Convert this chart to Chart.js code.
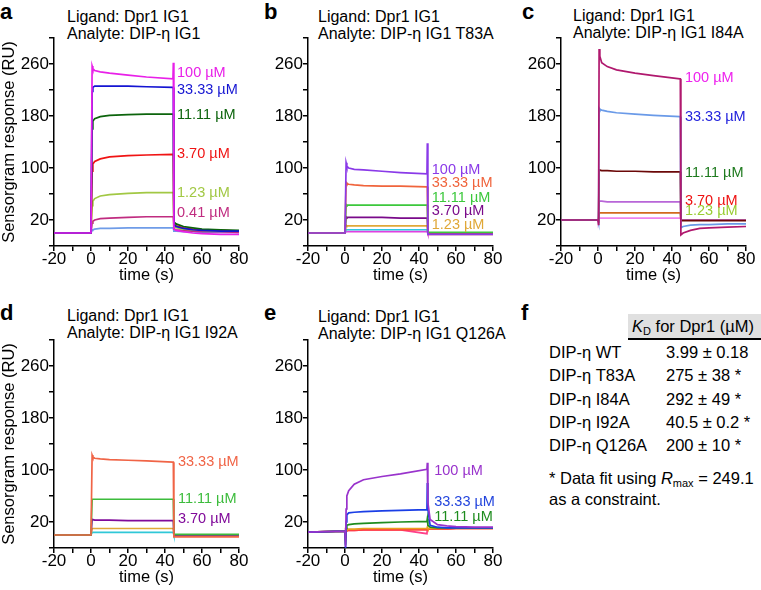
<!DOCTYPE html>
<html>
<head>
<meta charset="utf-8">
<script src="https://cdn.jsdelivr.net/npm/chart.js@4.4.1/dist/chart.umd.min.js"></script>
<style>
  body{margin:0;width:761px;height:590px;overflow:hidden;background:#fff;position:relative;
       font-family:"Liberation Sans",Arial,sans-serif;color:#000}
  canvas{position:absolute}
  .tt{position:absolute;font-size:16px;line-height:16.5px;white-space:nowrap}
  .lt{position:absolute;font-weight:bold;font-size:22px;line-height:22px}
  .row{position:absolute;font-size:16.5px;line-height:23.3px;white-space:nowrap}
</style>
</head>
<body>

<div class="lt" style="left:0;top:1px">a</div>
<div class="lt" style="left:264px;top:1px">b</div>
<div class="lt" style="left:522px;top:1px">c</div>
<div class="lt" style="left:0;top:302px">d</div>
<div class="lt" style="left:264px;top:302px">e</div>
<div class="lt" style="left:521px;top:302px">f</div>

<div class="tt" style="left:67px;top:9px">Ligand: Dpr1 IG1<br>Analyte: DIP-η IG1</div>
<div class="tt" style="left:318px;top:9px">Ligand: Dpr1 IG1<br>Analyte: DIP-η IG1 T83A</div>
<div class="tt" style="left:573px;top:8px">Ligand: Dpr1 IG1<br>Analyte: DIP-η IG1 I84A</div>
<div class="tt" style="left:67px;top:308px">Ligand: Dpr1 IG1<br>Analyte: DIP-η IG1 I92A</div>
<div class="tt" style="left:318px;top:309px">Ligand: Dpr1 IG1<br>Analyte: DIP-η IG1 Q126A</div>

<div id="table"></div>

<script>
// time points (s), shared by every sensorgram
var times = [-20, 0, 0.3, 0.6, 1, 2, 5, 10, 20, 30, 44.3, 44.5, 44.8, 46, 50, 55, 60, 70, 80];

// a: DIP-η IG1
var a100  = [0, 0, 0, 257, 253, 250, 248, 246, 243, 240, 237, 262, 6, 4, 2, 0, -1, -2, -2];
var a33   = [0, 0, 0, 218, 224, 226, 226, 226, 226, 225, 224, 224, 13, 10, 7, 5, 4, 3, 3];
var a11   = [0, 0, 0, 160, 172, 176, 179, 181, 182, 183, 183, 183, 17, 14, 10, 8, 6, 5, 4];
var a3_7  = [0, 0, 0, 95, 106, 110, 114, 117, 119, 120, 121, 121, 14, 11, 8, 6, 5, 4, 3];
var a1_23 = [0, 0, 0, 42, 49, 53, 57, 59, 61, 62, 62, 62, 10, 8, 6, 5, 4, 3, 3];
var a0_41 = [0, 0, 0, 15, 18, 20, 22, 23, 24, 25, 25, 25, 6, 5, 4, 3, 2, 2, 1];
var a0_14 = [0, 0, 0, 4, 5, 6, 7, 7, 8, 8, 8, 8, 3, 3, 2, 2, 1, 1, 1];

// b: T83A
var b100  = [0, 0, 0, 108, 103, 100, 98, 97, 95, 93, 91, 138, -2, -2, -2, -2, -2, -2, -2];
var b33   = [0, 0, 0, 78, 76, 75, 74, 73, 72, 72, 71, 71, -2, -2, -2, -2, -2, -2, -2];
var b11   = [0, 0, 0, 44, 43, 43, 43, 43, 43, 43, 43, 43, 1, 1, 1, 1, 1, 1, 1];
var b3_7  = [0, 0, 0, 25, 24, 24, 24, 24, 24, 23, 23, 23, -1, -1, -1, -1, -1, -1, -1];
var b1_23 = [0, 0, 0, 12, 11, 11, 11, 11, 11, 11, 11, 11, -1, -1, -1, -1, -1, -1, -1];
var b0_41 = [0, 0, 0, 5, 5, 5, 5, 5, 5, 5, 5, 5, -1, -1, -1, -1, -1, -1, -1];
var b0_14 = [0, 0, 0, 2, 2, 2, 2, 2, 2, 2, 2, 2, -1, -1, -1, -1, -1, -1, -1];

// c: I84A
var c100  = [20, 20, 12, 283, 272, 262, 256, 251, 246, 242, 237, 237, -3, 0, 4, 7, 8, 9, 10];
var c33   = [20, 20, 16, 192, 190, 189, 187, 185, 183, 181, 179, 179, 8, 10, 12, 13, 13, 14, 14];
var c11   = [20, 20, 18, 97, 97, 96, 96, 95, 95, 94, 94, 94, 19, 19, 19, 19, 19, 19, 19];
var c3_7  = [20, 20, 19, 49, 49, 49, 48, 48, 48, 48, 48, 48, 20, 20, 20, 20, 20, 20, 20];
var c1_23 = [20, 20, 19, 31, 31, 31, 31, 31, 31, 31, 31, 31, 20, 20, 20, 20, 20, 20, 20];
var c0_41 = [20, 20, 19, 23, 23, 23, 23, 23, 23, 23, 23, 23, 20, 20, 20, 20, 20, 20, 20];

// d: I92A
var d33   = [0, 0, 0, 123, 120, 118, 117, 116, 115, 114, 112, 112, -3, -3, -3, -3, -3, -3, -3];
var d11   = [0, 0, 0, 55, 55, 55, 55, 55, 55, 55, 55, 55, 1, 1, 1, 1, 1, 1, 1];
var d3_7  = [0, 0, 0, 24, 24, 23, 23, 23, 22, 22, 22, 22, 0, 0, 0, 0, 0, 0, 0];
var d1_23 = [0, 0, 0, 10, 10, 10, 10, 10, 10, 10, 10, 10, 0, 0, 0, 0, 0, 0, 0];
var d0_41 = [0, 0, 0, 4, 4, 4, 4, 4, 4, 4, 4, 4, 0, 0, 0, 0, 0, 0, 0];

// e: Q126A
var e100  = [4.5, 6, -18, 40, 60, 68, 78, 85, 90, 94, 101, 111, 50, 24, 16, 14, 13, 12, 12];
var e33   = [4.5, 6, -20, 20, 31, 34, 35, 36, 37, 38, 39, 80, 40, 15, 12, 11, 11, 11, 11];
var e11   = [4.5, 6, -15, 10, 15, 16, 17, 18, 19, 20, 21, 25, 15, 12, 11, 11, 11, 11, 11];
var e3_7  = [4.5, 6, -10, 7, 9, 9, 9, 10, 10, 10, 10, 12, 10, 10, 10, 10, 10, 10, 10];
var e1_23 = [4.5, 6, -5, 6, 7, 7, 7, 8, 8, 8, 8, 8, 9, 9, 9, 9, 10, 10, 10];
var e0_41 = [4.5, 6, 8, 7, 7, 7, 7, 8, 8, 8, 2, 9, 9, 9, 9, 9, 10, 10, 10];

// f: table
var mutants = ["DIP-η WT", "DIP-η T83A", "DIP-η I84A", "DIP-η I92A", "DIP-η Q126A"];
var kdValues = ["3.99 ± 0.18", "275 ± 38 *", "292 ± 49 *", "40.5 ± 0.2 *", "200 ± 10 *"];

var FONT = '"Liberation Sans", Arial, sans-serif';

function pts(ys){
	var out = [];
	for(var i = 0; i < times.length; i++)
		out.push({x: times[i], y: ys[i]});
	return out;
}

function panel(left, top, yTitle, lines, labels){
	var cv = document.createElement('canvas');
	cv.width = 250; cv.height = 290;
	cv.style.left = left + 'px'; cv.style.top = top + 'px';
	cv.style.width = '250px'; cv.style.height = '290px';
	document.body.appendChild(cv);

	var labelPlugin = {
		id: 'concLabels',
		afterDatasetsDraw: function(chart){
			var ctx = chart.ctx;
			ctx.save();
			ctx.font = '14.5px ' + FONT;
			ctx.textBaseline = 'middle';
			ctx.textAlign = 'left';
			labels.forEach(function(l){
				ctx.fillStyle = l[3];
				ctx.fillText(l[0], chart.scales.x.getPixelForValue(l[1]), chart.scales.y.getPixelForValue(l[2]));
			});
			ctx.restore();
		}
	};

	new Chart(cv, {
		type: 'line',
		data: {
			datasets: lines.map(function(s){
				return { data: pts(s[0]), borderColor: s[1], borderWidth: 1.7, pointRadius: 0, tension: 0, fill: false };
			})
		},
		options: {
			responsive: false, animation: false, devicePixelRatio: 1,
			layout: { padding: { top: 38, right: 11, left: 0, bottom: 0 } },
			plugins: { legend: { display: false }, tooltip: { enabled: false } },
			scales: {
				x: {
					type: 'linear', min: -20, max: 80,
					ticks: { stepSize: 10, autoSkip: false, maxRotation: 0, color: '#000', padding: 0,
						font: { size: 17, family: FONT, lineHeight: 1 },
						callback: function(v){ return v % 20 === 0 ? String(v) : ''; } },
					grid: { drawOnChartArea: false, drawTicks: true, tickLength: 5, color: '#000', lineWidth: 1.5 },
					border: { color: '#000', width: 1.5 },
					title: { display: true, text: 'time (s)', color: '#000', font: { size: 16.5, family: FONT }, padding: { top: 0, bottom: 5 } },
					afterFit: function(s){ s.height = 44; }
				},
				y: {
					min: -20, max: 300,
					ticks: { stepSize: 40, autoSkip: false, color: '#000', padding: 0,
						font: { size: 17, family: FONT },
						callback: function(v){ return (v - 20) % 80 === 0 ? String(v) : ''; } },
					grid: { drawOnChartArea: false, drawTicks: true, tickLength: 5, color: '#000', lineWidth: 1.5 },
					border: { color: '#000', width: 1.5 },
					title: { display: yTitle, text: 'Sensorgram response (RU)', color: '#000', font: { size: 16.5, family: FONT }, padding: { top: 0, bottom: 0 } },
					afterFit: function(s){ s.width = 54; }
				}
			}
		},
		plugins: [labelPlugin]
	});
}

panel(0, 0, true, [
	[a100, '#e820e8'], [a33, '#1414d2'], [a11, '#0c640c'], [a3_7, '#f01414'],
	[a1_23, '#a2c844'], [a0_41, '#c02c80'], [a0_14, '#6f9ce8']
], [
	['100 µM', 46.5, 246, '#e820e8'], ['33.33 µM', 46.5, 220, '#1414d2'], ['11.11 µM', 46.5, 182, '#0c640c'],
	['3.70 µM', 46.5, 122, '#f01414'], ['1.23 µM', 46.5, 62, '#a2c844'], ['0.41 µM', 46.5, 31, '#c02c80']
]);

panel(254, 0, false, [
	[b100, '#8a3ae8'], [b33, '#f0643c'], [b11, '#3cc83c'], [b3_7, '#7a0a8a'],
	[b1_23, '#e0a838'], [b0_41, '#30c8e0'], [b0_14, '#e040e0']
], [
	['100 µM', 46.9, 97, '#8a3ae8'], ['33.33 µM', 46.9, 77.5, '#f0643c'], ['11.11 µM', 46.9, 54.5, '#3cc83c'],
	['3.70 µM', 46.9, 34.5, '#7a0a8a'], ['1.23 µM', 46.9, 12.5, '#e0a838']
]);

panel(507, 0, false, [
	[c100, '#b0186e'], [c33, '#6a9ae8'], [c11, '#6b0808'], [c3_7, '#b866d8'],
	[c1_23, '#d2691e'], [c0_41, '#ee82ee']
], [
	['100 µM', 47, 238, '#ee22ee'], ['33.33 µM', 47, 179, '#2222dd'], ['11.11 µM', 47, 93, '#1e7a1e'],
	['3.70 µM', 47, 50, '#ee1111'], ['1.23 µM', 47, 34, '#99cc33']
]);

panel(0, 302, true, [
	[d33, '#f06446'], [d11, '#3cbc3c'], [d3_7, '#800a9a'], [d1_23, '#e0a838'], [d0_41, '#30c8d8']
], [
	['33.33 µM', 47, 112, '#f06446'], ['11.11 µM', 47, 55.5, '#3cbc3c'], ['3.70 µM', 47, 24.5, '#800a9a']
]);

panel(254, 302, false, [
	[e100, '#9933cc'], [e33, '#1a3ee6'], [e11, '#1e8c1e'], [e3_7, '#e8a020'], [e1_23, '#ff4040'], [e0_41, '#ff4088']
], [
	['100 µM', 48.2, 98, '#9933cc'], ['33.33 µM', 48.2, 51.5, '#2244dd'], ['11.11 µM', 48.2, 27, '#1e8c1e']
]);

// table f
var tb = document.getElementById('table');
var head = document.createElement('div');
head.style.cssText = 'position:absolute;left:628px;top:314px;width:140px;line-height:24px;background:#e0e0e0;border-bottom:2px solid #000;padding-left:4px;font-size:16.5px;white-space:nowrap;box-sizing:border-box;height:26px';
head.innerHTML = '<i>K</i><sub style="font-size:11px;vertical-align:-3px">D</sub> for Dpr1 (µM)';
tb.appendChild(head);
for(var i = 0; i < mutants.length; i++){
	var r1 = document.createElement('div');
	r1.className = 'row';
	r1.style.left = '549px'; r1.style.top = (341 + i * 23.3) + 'px';
	r1.textContent = mutants[i];
	tb.appendChild(r1);
	var r2 = document.createElement('div');
	r2.className = 'row';
	r2.style.left = '666px'; r2.style.top = (341 + i * 23.3) + 'px';
	r2.textContent = kdValues[i];
	tb.appendChild(r2);
}
var foot = document.createElement('div');
foot.className = 'row';
foot.style.cssText = 'left:549px;top:469.5px;line-height:16px';
foot.innerHTML = '* Data fit using <i>R</i><sub style="font-size:11px;vertical-align:-3px">max</sub> = 249.1<br>as a constraint.';
tb.appendChild(foot);
</script>
</body>
</html>
